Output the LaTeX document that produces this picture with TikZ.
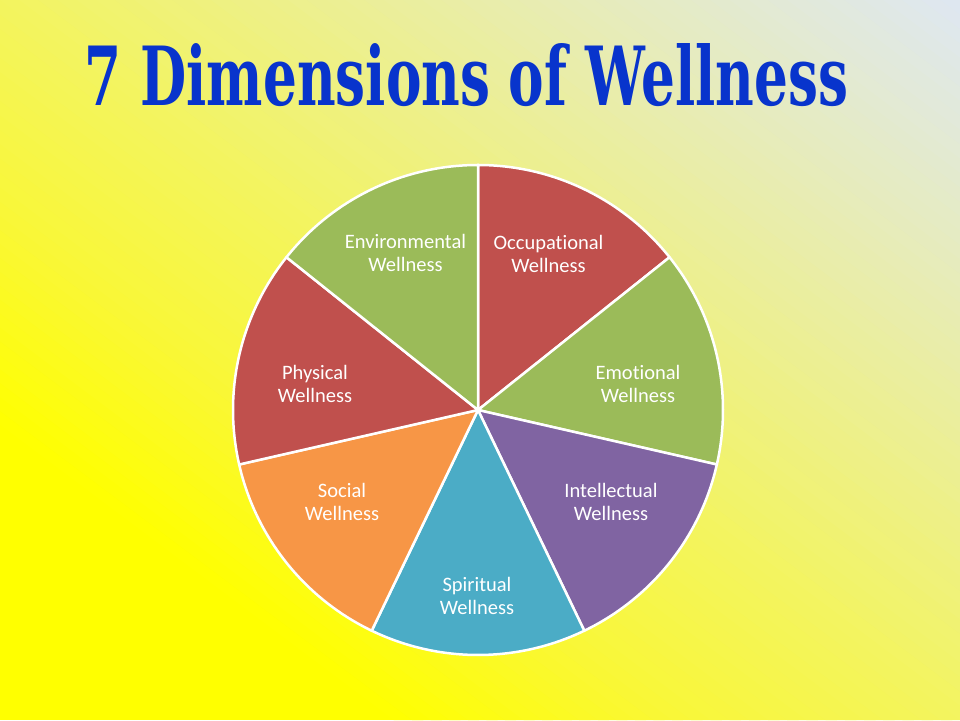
\documentclass[tikz,border=0pt]{standalone}
\usepackage{fontspec}
\usepackage{graphicx}
\setmainfont[Ligatures=NoCommon]{Carlito}
\newfontfamily\titlefont{DejaVu Serif}
\definecolor{bgA}{RGB}{255,255,0}
\definecolor{bgB}{RGB}{249,247,55}
\definecolor{bgC}{RGB}{243,244,95}
\definecolor{bgD}{RGB}{233,237,170}
\definecolor{bgE}{RGB}{222,231,242}
\definecolor{slRed}{HTML}{C0504D}
\definecolor{slGreen}{HTML}{9BBB59}
\definecolor{slPurple}{HTML}{8064A2}
\definecolor{slBlue}{HTML}{4BACC6}
\definecolor{slOrange}{HTML}{F79646}
\definecolor{titleBlue}{RGB}{8,52,204}
\tikzset{
  slice/.style={draw=white, line width=2.5pt, line join=round},
  lbl/.style={text=white, align=center, font=\fontsize{20.5}{23}\selectfont, inner sep=0pt}
}
% gradient band segment: u from #1 to #2, colour #3 to #4, #5 bands
\newcommand{\bgseg}[5]{%
  \pgfmathtruncatemacro{\bgnm}{#5-1}%
  \foreach \bgi in {0,...,\bgnm}{%
    \pgfmathsetmacro{\bgua}{#1+(#2-#1)*\bgi/#5}%
    \pgfmathsetmacro{\bgub}{#1+(#2-#1)*(\bgi+1.6)/#5}%
    \pgfmathsetmacro{\bgw}{100-100*(\bgi+0.5)/#5}%
    \fill[#3!\bgw!#4] ({\bgua*960},0) -- ({\bgub*960},0) -- (0,{\bgub*720}) -- (0,{\bgua*720}) -- cycle;
  }%
}
\begin{document}
\begin{tikzpicture}[x=1pt,y=1pt]
\useasboundingbox (0,0) rectangle (960,720);
\begin{scope}
\clip (0,0) rectangle (960,720);
\fill[bgA] (0,0) rectangle (960,720);
\bgseg{0.41}{0.7}{bgA}{bgB}{15}
\bgseg{0.7}{1.0}{bgB}{bgC}{15}
\bgseg{1.0}{1.5}{bgC}{bgD}{25}
\bgseg{1.5}{2.0}{bgD}{bgE}{25}
\end{scope}
\node[inner sep=0pt, text=titleBlue] (title) at (466.5,645) {\resizebox{763pt}{62pt}{\titlefont\bfseries 7 Dimensions of Wellness}};
\coordinate (c) at (478,310);
\def\R{245}
\filldraw[slice, fill=slRed]    (c) -- ++(90:\R) arc[start angle=90, end angle=38.5714, radius=\R] -- cycle;
\filldraw[slice, fill=slGreen]  (c) -- ++(38.5714:\R) arc[start angle=38.5714, end angle=-12.8571, radius=\R] -- cycle;
\filldraw[slice, fill=slPurple] (c) -- ++(-12.8571:\R) arc[start angle=-12.8571, end angle=-64.2857, radius=\R] -- cycle;
\filldraw[slice, fill=slBlue]   (c) -- ++(-64.2857:\R) arc[start angle=-64.2857, end angle=-115.7143, radius=\R] -- cycle;
\filldraw[slice, fill=slOrange] (c) -- ++(-115.7143:\R) arc[start angle=-115.7143, end angle=-167.1429, radius=\R] -- cycle;
\filldraw[slice, fill=slRed]    (c) -- ++(-167.1429:\R) arc[start angle=-167.1429, end angle=-218.5714, radius=\R] -- cycle;
\filldraw[slice, fill=slGreen]  (c) -- ++(141.4286:\R) arc[start angle=141.4286, end angle=90, radius=\R] -- cycle;
\node[lbl] (occ) at (548.5,466) {Occupational\\Wellness};
\node[lbl] (emo) at (638,336) {Emotional\\Wellness};
\node[lbl] (int) at (611,218) {Intellectual\\Wellness};
\node[lbl] (spi) at (477,124) {Spiritual\\Wellness};
\node[lbl] (soc) at (342,218) {Social\\Wellness};
\node[lbl] (phy) at (315,336) {Physical\\Wellness};
\node[lbl] (env) at (405.5,467) {Environmental\\Wellness};
\end{tikzpicture}
\end{document}
